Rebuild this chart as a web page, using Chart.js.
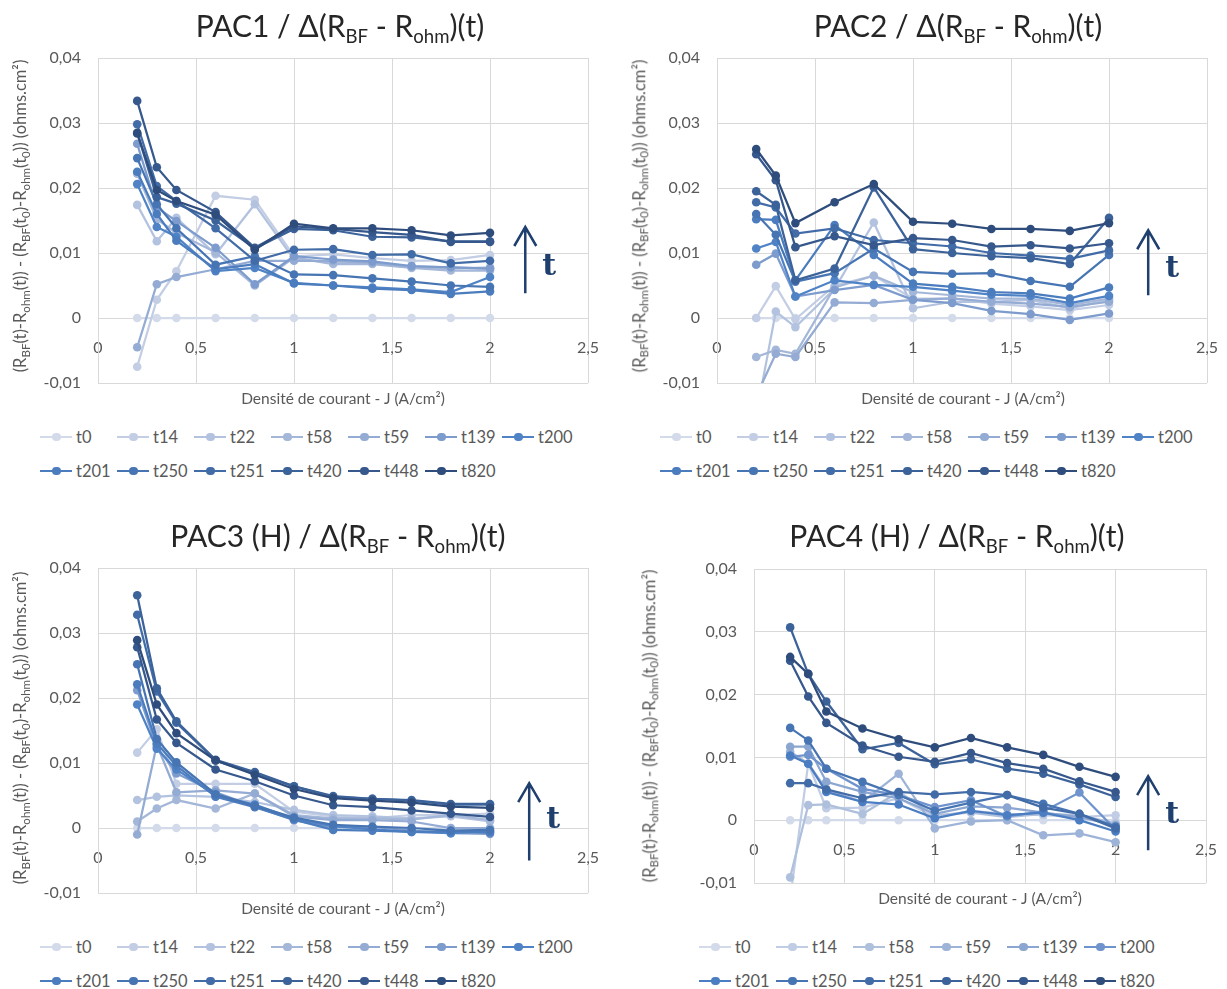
<!DOCTYPE html>
<html>
<head>
<meta charset="utf-8">
<script src="https://cdn.jsdelivr.net/npm/chart.js@4.4.0/dist/chart.umd.min.js"></script>
<style>
    body { margin: 0; background: #fff; font-family: Lato, "Open Sans", sans-serif; }
    #page { position: relative; width: 1227px; height: 989px; overflow: hidden; background: #fff; }
    canvas { position: absolute; }
    .title { position: absolute; transform: translate(-50%, -50%); font-size: 30px; color: #262626; white-space: nowrap; }
    .title sub { font-size: 0.62em; vertical-align: -0.3em; }
    .ytitle { position: absolute; transform: translate(-50%, -50%) rotate(-90deg); font-size: 16.5px; color: #595959; white-space: nowrap; }
    .ytitle sub { font-size: 0.7em; vertical-align: -0.3em; }
    .xtitle { position: absolute; transform: translate(-50%, -50%); font-size: 15.5px; color: #595959; white-space: nowrap; }
    .legend { position: absolute; display: grid; grid-auto-rows: 34px; }
    .item { display: flex; align-items: center; font-size: 16.5px; color: #595959; white-space: nowrap; }
    .sw { position: relative; width: 32px; height: 2.5px; margin-right: 4px; }
    .sw::after { content: ""; position: absolute; left: 12px; top: -3px; width: 8.5px; height: 8.5px; border-radius: 50%; background: inherit; }
</style>
</head>
<body>
<div id="page">
    <canvas id="pac1" width="613" height="420" style="left:0;top:0"></canvas>
    <canvas id="pac2" width="614" height="420" style="left:613px;top:0"></canvas>
    <canvas id="pac3" width="613" height="420" style="left:0;top:500px"></canvas>
    <canvas id="pac4" width="614" height="420" style="left:613px;top:500px"></canvas>
</div>
<script>
// x : current density (A/cm2)
const currentDensity = [0.2, 0.3, 0.4, 0.6, 0.8, 1, 1.2, 1.4, 1.6, 1.8, 2];

const names13 = ['t0', 't14', 't22', 't58', 't59', 't139', 't200', 't201', 't250', 't251', 't420', 't448', 't820'];
const names12 = ['t0', 't14', 't58', 't59', 't139', 't200', 't201', 't250', 't251', 't420', 't448', 't820'];

const xTicks = [0, 0.5, 1, 1.5, 2, 2.5];
const xTickLabels = ['0', '0,5', '1', '1,5', '2', '2,5'];
const yTicks = [-0.01, 0, 0.01, 0.02, 0.03, 0.04];
const yTickLabels = ['-0,01', '0', '0,01', '0,02', '0,03', '0,04'];

// one row per series, same order as the names list
const pac1Values = [
    [0, 0, 0, 0, 0, 0, 0, 0, 0, 0, 0],
    [-0.0075, 0.0028, 0.0072, 0.0188, 0.0182, 0.0095, 0.0098, 0.0092, 0.0088, 0.0089, 0.0097],
    [0.0174, 0.0118, 0.0154, 0.0098, 0.0175, 0.0090, 0.0086, 0.0084, 0.0078, 0.0076, 0.0078],
    [0.0222, 0.0152, 0.0131, 0.0101, 0.0050, 0.0093, 0.0083, 0.0083, 0.0077, 0.0073, 0.0073],
    [-0.0045, 0.0052, 0.0063, 0.0075, 0.0088, 0.0088, 0.0088, 0.0085, 0.0079, 0.0078, 0.0076],
    [0.0268, 0.0170, 0.0149, 0.0108, 0.0052, 0.0095, 0.0090, 0.0087, 0.0080, 0.0078, 0.0076],
    [0.0206, 0.0140, 0.0125, 0.0072, 0.0077, 0.0054, 0.0050, 0.0047, 0.0044, 0.0040, 0.0063],
    [0.0225, 0.0160, 0.0119, 0.0075, 0.0083, 0.0053, 0.0050, 0.0045, 0.0043, 0.0037, 0.0041],
    [0.0246, 0.0175, 0.0138, 0.0082, 0.0095, 0.0067, 0.0066, 0.0061, 0.0056, 0.0050, 0.0048],
    [0.0298, 0.0203, 0.0180, 0.0138, 0.0088, 0.0105, 0.0106, 0.0097, 0.0098, 0.0084, 0.0088],
    [0.0285, 0.0186, 0.0176, 0.0150, 0.0107, 0.0137, 0.0135, 0.0125, 0.0124, 0.0118, 0.0118],
    [0.0334, 0.0232, 0.0197, 0.0163, 0.0108, 0.0141, 0.0137, 0.0132, 0.0128, 0.0117, 0.0117],
    [0.0284, 0.0197, 0.0180, 0.0159, 0.0105, 0.0145, 0.0138, 0.0138, 0.0135, 0.0127, 0.0131]
];

const pac2Values = [
    [0, 0, 0, 0, 0, 0, 0, 0, 0, 0, 0],
    [0, 0.0049, -0.0002, 0.0050, 0.0065, 0.0030, 0.0030, 0.0022, 0.0018, 0.0012, 0.0020],
    [-0.0150, 0.0010, -0.0014, 0.0045, 0.0147, 0.0015, 0.0025, 0.0025, 0.0028, 0.0015, 0.0028],
    [-0.0060, -0.0049, -0.0055, 0.0047, 0.0065, 0.0040, 0.0035, 0.0030, 0.0030, 0.0020, 0.0030],
    [-0.0120, -0.0055, -0.0060, 0.0024, 0.0023, 0.0028, 0.0030, 0.0025, 0.0022, 0.0017, 0.0025],
    [0.0082, 0.0099, 0.0033, 0.0043, 0.0051, 0.0028, 0.0023, 0.0011, 0.0006, -0.0003, 0.0007],
    [0.0107, 0.0117, 0.0033, 0.0058, 0.0051, 0.0048, 0.0042, 0.0036, 0.0034, 0.0023, 0.0034],
    [0.0152, 0.0151, 0.0058, 0.0143, 0.0097, 0.0053, 0.0048, 0.0040, 0.0038, 0.0030, 0.0047],
    [0.0160, 0.0128, 0.0056, 0.0069, 0.0107, 0.0071, 0.0068, 0.0069, 0.0057, 0.0048, 0.0097],
    [0.0178, 0.0170, 0.0130, 0.0138, 0.0120, 0.0115, 0.0110, 0.0100, 0.0096, 0.0091, 0.0104],
    [0.0195, 0.0174, 0.0058, 0.0076, 0.0201, 0.0106, 0.0100, 0.0095, 0.0092, 0.0083, 0.0154],
    [0.0252, 0.0212, 0.0109, 0.0126, 0.0112, 0.0123, 0.0120, 0.0110, 0.0112, 0.0107, 0.0115],
    [0.0260, 0.0219, 0.0146, 0.0178, 0.0206, 0.0148, 0.0145, 0.0137, 0.0137, 0.0134, 0.0146]
];

const pac3Values = [
    [0, 0, 0, 0, 0, 0, 0, 0, 0, 0, 0],
    [0.0116, 0.0152, 0.0068, 0.0068, 0.0068, 0.0025, 0.0018, 0.0015, 0.0020, 0.0020, 0.0022],
    [0.0043, 0.0048, 0.0050, 0.0048, 0.0040, 0.0028, 0.0020, 0.0018, 0.0015, 0.0018, 0.0010],
    [0.0010, 0.0030, 0.0043, 0.0030, 0.0053, 0.0020, 0.0015, 0.0015, 0.0013, 0.0020, 0.0012],
    [-0.0010, 0.0128, 0.0055, 0.0058, 0.0053, 0.0018, 0.0012, 0.0012, 0.0010, 0.0000, 0.0000],
    [0.0212, 0.0125, 0.0084, 0.0055, 0.0033, 0.0012, 0.0001, 0.0002, -0.0004, -0.0008, -0.0009],
    [0.0190, 0.0122, 0.0090, 0.0050, 0.0036, 0.0014, 0.0003, -0.0002, -0.0006, -0.0008, -0.0005],
    [0.0221, 0.0130, 0.0096, 0.0048, 0.0032, 0.0013, -0.0003, -0.0004, -0.0006, -0.0005, -0.0007],
    [0.0252, 0.0137, 0.0101, 0.0052, 0.0034, 0.0016, 0.0005, 0.0002, 0.0000, -0.0004, -0.0003],
    [0.0328, 0.0210, 0.0162, 0.0104, 0.0084, 0.0064, 0.0048, 0.0045, 0.0042, 0.0036, 0.0036],
    [0.0358, 0.0215, 0.0164, 0.0105, 0.0086, 0.0064, 0.0049, 0.0045, 0.0043, 0.0037, 0.0037],
    [0.0278, 0.0167, 0.0131, 0.0090, 0.0072, 0.0050, 0.0035, 0.0032, 0.0027, 0.0022, 0.0017],
    [0.0289, 0.0190, 0.0146, 0.0104, 0.0082, 0.0060, 0.0046, 0.0042, 0.0039, 0.0033, 0.0031]
];

const pac4Values = [
    [0, 0, 0, 0, 0, 0, 0, 0, 0, 0, 0],
    [-0.0125, 0.0090, 0.0019, 0.0020, 0.0035, 0.0005, 0.0015, 0.0010, 0.0008, 0.0005, 0.0008],
    [-0.0091, 0.0024, 0.0025, 0.0010, 0.0045, 0.0008, 0.0012, 0.0005, 0.0010, 0.0008, -0.0005],
    [0.0109, 0.0090, 0.0049, 0.0029, 0.0074, -0.0013, -0.0002, 0.0000, -0.0024, -0.0021, -0.0035],
    [0.0117, 0.0117, 0.0061, 0.0045, 0.0035, 0.0010, 0.0022, 0.0020, 0.0012, 0.0005, -0.0008],
    [0.0101, 0.0104, 0.0082, 0.0050, 0.0040, 0.0021, 0.0032, 0.0006, 0.0014, 0.0044, -0.0015],
    [0.0103, 0.0090, 0.0045, 0.0029, 0.0025, 0.0003, 0.0015, 0.0008, 0.0012, 0.0000, -0.0018],
    [0.0147, 0.0127, 0.0082, 0.0061, 0.0040, 0.0015, 0.0028, 0.0040, 0.0026, 0.0010, -0.0010],
    [0.0059, 0.0059, 0.0049, 0.0035, 0.0045, 0.0041, 0.0045, 0.0040, 0.0020, 0.0010, -0.0013],
    [0.0307, 0.0233, 0.0189, 0.0113, 0.0123, 0.0089, 0.0097, 0.0082, 0.0074, 0.0057, 0.0037],
    [0.0254, 0.0197, 0.0155, 0.0119, 0.0101, 0.0093, 0.0107, 0.0091, 0.0082, 0.0062, 0.0045],
    [0.0260, 0.0233, 0.0173, 0.0146, 0.0129, 0.0116, 0.0131, 0.0116, 0.0104, 0.0085, 0.0069]
];

// monochromatic blues, light (oldest) to dark (newest)
const colors13 = ['#d3dbea', '#c3cee4', '#b3c3df', '#a4b7d9', '#94abd3', '#7d9ccd', '#4f83c6', '#4b7cbe', '#4775b3', '#426ca7', '#3c629a', '#36588c', '#2f4d7c'];
const colors12 = ['#d3dbea', '#c1cde4', '#afc0dd', '#9db3d7', '#8aa6d1', '#6f93cc', '#4b7dc2', '#4775b3', '#426ca7', '#3c629a', '#36588c', '#2f4d7c'];

const textGrey = '#595959';
const gridGrey = '#d9d9d9';

const timeArrow = {
    id: 'timeArrow',
    afterDatasetsDraw(chart, args, opts) {
        const { ctx, scales: { x, y } } = chart;
        const px = x.getPixelForValue(opts.x);
        const top = y.getPixelForValue(opts.yTop);
        const bottom = y.getPixelForValue(opts.yBottom);
        ctx.save();
        ctx.strokeStyle = '#1f3f6e';
        ctx.lineWidth = 2.5;
        ctx.beginPath();
        ctx.moveTo(px, bottom);
        ctx.lineTo(px, top);
        ctx.moveTo(px - 11, top + 19);
        ctx.lineTo(px, top);
        ctx.lineTo(px + 11, top + 19);
        ctx.stroke();
        ctx.fillStyle = '#1f3f6e';
        ctx.font = 'bold 30px "DejaVu Serif", "Liberation Serif", serif';
        ctx.textAlign = 'center';
        ctx.textBaseline = 'middle';
        ctx.fillText('t', px + 24, y.getPixelForValue(opts.yLabel));
        ctx.restore();
    }
};

function makeChart(id, names, values, colors, pad, arrow) {
    const n = names.length;
    const datasets = names.map((name, i) => ({
        label: name,
        data: currentDensity.map((xv, j) => ({ x: xv, y: values[i][j] })),
        borderColor: colors[i],
        backgroundColor: colors[i],
        borderWidth: 2.25,
        pointRadius: 4.3,
        pointBorderWidth: 0,
        pointHoverRadius: 4.3,
        tension: 0,
        order: n - i
    }));
    return new Chart(document.getElementById(id), {
        type: 'line',
        data: { datasets },
        plugins: [timeArrow],
        options: {
            responsive: false,
            animation: false,
            devicePixelRatio: 1,
            layout: { padding: pad },
            plugins: {
                legend: { display: false },
                tooltip: { enabled: false },
                timeArrow: arrow
            },
            scales: {
                x: {
                    type: 'linear',
                    min: 0,
                    max: 2.5,
                    position: { y: 0 },
                    afterBuildTicks: s => { s.ticks = xTicks.map(v => ({ value: v })); },
                    ticks: {
                        callback: (v, i) => xTickLabels[i],
                        autoSkip: false,
                        maxRotation: 0,
                        color: textGrey,
                        font: { family: 'Lato', size: 16 }
                    },
                    grid: { color: gridGrey, drawTicks: true, tickLength: 17, tickColor: 'rgba(0,0,0,0)' },
                    border: { color: gridGrey }
                },
                y: {
                    type: 'linear',
                    min: -0.01,
                    max: 0.04,
                    afterBuildTicks: s => { s.ticks = yTicks.map(v => ({ value: v })); },
                    afterFit: s => { s.width = 66; },
                    ticks: {
                        callback: (v, i) => yTickLabels[i],
                        padding: 17,
                        color: textGrey,
                        font: { family: 'Lato', size: 16 }
                    },
                    grid: { color: gridGrey, drawTicks: false },
                    border: { color: gridGrey }
                }
            }
        }
    });
}

function addText(cls, html, left, top) {
    const el = document.createElement('div');
    el.className = cls;
    el.innerHTML = html;
    el.style.left = left + 'px';
    el.style.top = top + 'px';
    document.getElementById('page').appendChild(el);
}

function addLegend(names, colors, left, top, colWidth, perRow) {
    const box = document.createElement('div');
    box.className = 'legend';
    box.style.left = left + 'px';
    box.style.top = top + 'px';
    box.style.gridTemplateColumns = `repeat(${perRow}, ${colWidth}px)`;
    names.forEach((name, i) => {
        const item = document.createElement('div');
        item.className = 'item';
        item.innerHTML = `<span class="sw" style="background:${colors[i]}"></span><span>${name}</span>`;
        box.appendChild(item);
    });
    document.getElementById('page').appendChild(box);
}

const yTitle = '(R<sub>BF</sub>(t)-R<sub>ohm</sub>(t)) - (R<sub>BF</sub>(t<sub>0</sub>)-R<sub>ohm</sub>(t<sub>0</sub>)) (ohms.cm²)';
const xTitle = 'Densité de courant - J (A/cm²)';
const delta = ' / Δ(R<sub>BF</sub> - R<sub>ohm</sub>)(t)';

makeChart('pac1', names13, pac1Values, colors13, { left: 32, top: 58, right: 25, bottom: 37 },
    { x: 2.18, yTop: 0.014, yBottom: 0.0038, yLabel: 0.0078 });
makeChart('pac2', names13, pac2Values, colors13, { left: 38, top: 58, right: 20, bottom: 37 },
    { x: 2.2, yTop: 0.0135, yBottom: 0.0035, yLabel: 0.0075 });
makeChart('pac3', names13, pac3Values, colors13, { left: 32, top: 68, right: 25, bottom: 27 },
    { x: 2.2, yTop: 0.0069, yBottom: -0.005, yLabel: 0.0012 });
makeChart('pac4', names12, pac4Values, colors12, { left: 75, top: 69, right: 21, bottom: 37 },
    { x: 2.18, yTop: 0.007, yBottom: -0.0048, yLabel: 0.0008 });

addText('title', 'PAC1' + delta, 340, 27);
addText('title', 'PAC2' + delta, 958, 27);
addText('title', 'PAC3 (H)' + delta, 338, 537);
addText('title', 'PAC4 (H)' + delta, 957, 537);

addText('ytitle', yTitle, 21, 216);
addText('ytitle', yTitle, 640, 216);
addText('ytitle', yTitle, 21, 728);
addText('ytitle', yTitle, 650, 726);

addText('xtitle', xTitle, 343, 398);
addText('xtitle', xTitle, 963, 398);
addText('xtitle', xTitle, 343, 908);
addText('xtitle', xTitle, 980, 898);

addLegend(names13, colors13, 40, 420, 77, 7);
addLegend(names13, colors13, 660, 420, 77, 7);
addLegend(names13, colors13, 40, 930, 77, 7);
addLegend(names12, colors12, 699, 930, 77, 6);
</script>
</body>
</html>
